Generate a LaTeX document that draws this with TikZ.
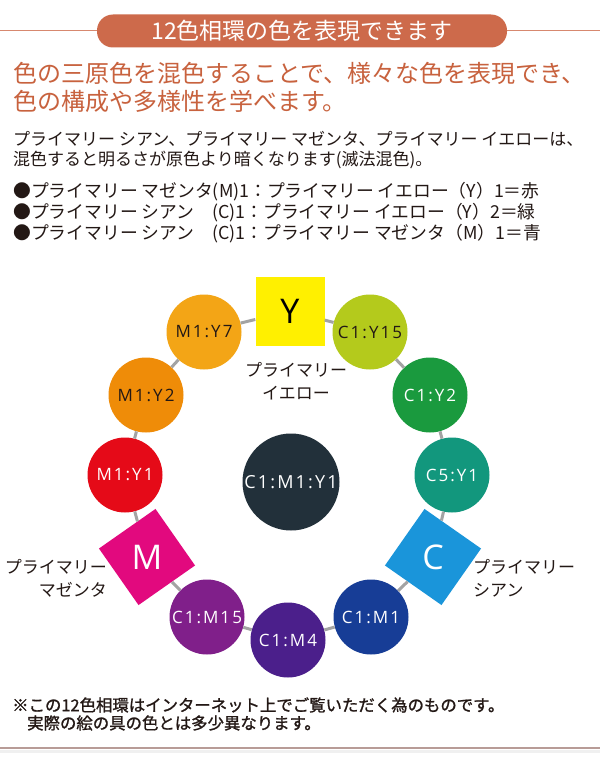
\documentclass[tikz,border=0pt]{standalone}
\usepackage{fontspec}
\setmainfont{Noto Sans CJK JP}
\newfontfamily\hueface{Open Sans}[LetterSpace=12]
\newfontfamily\noteface{Noto Sans CJK JP}[FakeBold=1.2]

\definecolor{terra}{HTML}{CD6A4B}
\definecolor{rust}{HTML}{C8623E}
\definecolor{ink}{HTML}{231815}
\definecolor{ringgray}{HTML}{A3A3A3}
\definecolor{footrule}{HTML}{B89C97}
\definecolor{hueY}{HTML}{FFF000}
\definecolor{hueCYa}{HTML}{B4CA1C}
\definecolor{hueCYb}{HTML}{1A9A3E}
\definecolor{hueCYc}{HTML}{12977D}
\definecolor{hueC}{HTML}{1A95DA}
\definecolor{hueCMa}{HTML}{173D96}
\definecolor{hueCMb}{HTML}{4B1F8B}
\definecolor{hueCMc}{HTML}{801F8A}
\definecolor{hueM}{HTML}{E2097E}
\definecolor{hueMYa}{HTML}{E50A18}
\definecolor{hueMYb}{HTML}{EF8C08}
\definecolor{hueMYc}{HTML}{F3A516}
\definecolor{hueK}{HTML}{22303A}

\tikzset{
  hue/.style={circle, inner sep=0pt, minimum size=75pt, text=white,
    font=\hueface\fontsize{17}{17}\selectfont},
  prim/.style={inner sep=0pt, minimum size=69pt, text=white,
    font=\hueface\fontsize{34}{34}\selectfont},
  ring/.style={draw=ringgray, line width=3pt},
}

\begin{document}
\begin{tikzpicture}[x=1pt, y=-1pt]
    \fill[white] (0,0) rectangle (600,768);
    \useasboundingbox (0,0) rectangle (600,768);
    % title bar
    \draw[terra!80, line width=1pt] (0,31) -- (600,31);
    \node (title) at (302,31) [fill=terra, rounded corners=16pt, minimum width=410pt, minimum height=33pt,
        text=white, font=\fontsize{23}{23}\selectfont] {12色相環の色を表現できます};
    % headline and text
    \node (head1) at (13,73) [anchor=west, inner sep=0pt, text=rust, font=\fontsize{24}{24}\selectfont]
        {色の三原色を混色することで、様々な色を表現でき、};
    \node (head2) at (13,101) [anchor=west, inner sep=0pt, text=rust, font=\fontsize{24}{24}\selectfont]
        {色の構成や多様性を学べます。};
    \node (body1) at (13,139) [anchor=west, inner sep=0pt, text=ink, font=\fontsize{17}{17}\selectfont]
        {プライマリー シアン、プライマリー マゼンタ、プライマリー イエローは、};
    \node (body2) at (13,160) [anchor=west, inner sep=0pt, text=ink, font=\fontsize{17}{17}\selectfont]
        {混色すると明るさが原色より暗くなります(滅法混色)。};
    \node (mix1) at (13,192) [anchor=west, inner sep=0pt, text=ink, font=\fontsize{17.8}{17.8}\selectfont]
        {●プライマリー マゼンタ(M)1：プライマリー イエロー（Y）1＝赤};
    \node (mix2) at (13,213) [anchor=west, inner sep=0pt, text=ink, font=\fontsize{17.8}{17.8}\selectfont]
        {●プライマリー シアン　(C)1：プライマリー イエロー（Y）2＝緑};
    \node (mix3) at (13,234) [anchor=west, inner sep=0pt, text=ink, font=\fontsize{17.8}{17.8}\selectfont]
        {●プライマリー シアン　(C)1：プライマリー マゼンタ（M）1＝青};
    % hue wheel
    \node (y)    at (290,311) [prim, fill=hueY, text=black] {Y};
    \node (cy15) at (370,332) [hue, fill=hueCYa, text=ink] {C1:Y15};
    \node (cy2)  at (430,395) [hue, fill=hueCYb] {C1:Y2};
    \node (c5y)  at (452,475) [hue, fill=hueCYc] {C5:Y1};
    \node (c)    at (433,557) [prim, fill=hueC, rotate=-35] {\rotatebox{35}{C}};
    \node (cm1)  at (371,617) [hue, fill=hueCMa] {C1:M1};
    \node (cm4)  at (288,640) [hue, fill=hueCMb] {C1:M4};
    \node (cm15) at (207,617) [hue, fill=hueCMc] {C1:M15};
    \node (m)    at (147,557) [prim, fill=hueM, rotate=35] {\rotatebox{-35}{M}};
    \node (my1)  at (125,475) [hue, fill=hueMYa] {M1:Y1};
    \node (my2)  at (146,395) [hue, fill=hueMYb, text=ink] {M1:Y2};
    \node (my7)  at (204,332) [hue, fill=hueMYc, text=ink] {M1:Y7};
    \node (k)    at (291,482) [hue, minimum size=97pt, fill=hueK, font=\hueface\fontsize{18}{18}\selectfont] {C1:M1:Y1};
    \foreach \a/\b in {y/cy15, cy15/cy2, cy2/c5y, c5y/c, c/cm1, cm1/cm4,
        cm4/cm15, cm15/m, m/my1, my1/my2, my2/my7, my7/y}
        \draw[ring] (\a) -- (\b);
    % primary labels
    \node (ylab) at (296,381) [align=center, inner sep=0pt, text=ink, font=\fontsize{17}{23}\selectfont]
        {プライマリー\\イエロー};
    \node (mlab) at (107,578) [anchor=east, align=right, inner sep=0pt, text=ink, font=\fontsize{17}{23}\selectfont]
        {プライマリー\\マゼンタ};
    \node (clab) at (473,578) [anchor=west, align=left, inner sep=0pt, text=ink, font=\fontsize{17}{23}\selectfont]
        {プライマリー\\シアン};
    % note
    \node (note1) at (12,705) [anchor=west, inner sep=0pt, text=ink, font=\noteface\fontsize{16.4}{16.4}\selectfont]
        {※この12色相環はインターネット上でご覧いただく為のものです。};
    \node (note2) at (27,723) [anchor=west, inner sep=0pt, text=ink, font=\noteface\fontsize{16.4}{16.4}\selectfont]
        {実際の絵の具の色とは多少異なります。};
    \draw[footrule, line width=2.5pt] (0,748) -- (600,748);
    \draw[black!6, line width=3pt] (0,751.5) -- (600,751.5);
\end{tikzpicture}
\end{document}
